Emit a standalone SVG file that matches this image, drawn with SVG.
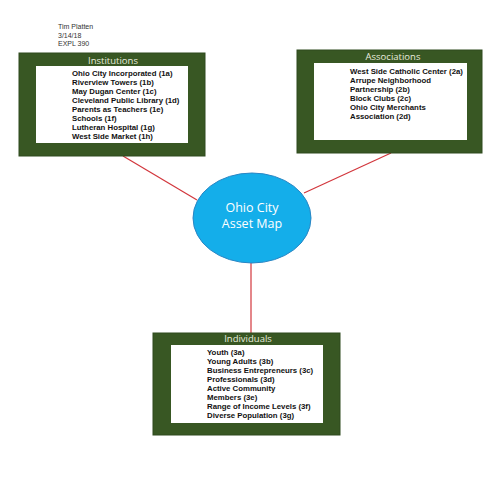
<svg xmlns="http://www.w3.org/2000/svg" width="495" height="495" viewBox="0 0 495 495">
<style>
.outer{fill:#385723;stroke:#2f4a1e;stroke-width:1}
.inner{fill:#ffffff}
.title{font-family:"Open Sans","Liberation Sans",sans-serif;font-size:9.5px;fill:#e8ecdf;text-anchor:middle}
.item{font-family:"Liberation Sans",Arial,sans-serif;font-size:7.8px;font-weight:bold;fill:#111}
.meta{font-family:"Liberation Sans",Arial,sans-serif;font-size:7px;fill:#333}
.conn{stroke:#d2363c;stroke-width:1.2;fill:none}
.hub{fill:#14aeea;stroke:#2a86c4;stroke-width:1}
.hubtext{font-family:"Open Sans","Liberation Sans",sans-serif;font-size:12.5px;fill:#ffffff;text-anchor:middle}
</style>
<rect width="495" height="495" fill="#ffffff"/>
<g id="author">
<text class="meta" x="58" y="29">Tim Platten</text>
<text class="meta" x="58" y="37.5">3/14/18</text>
<text class="meta" x="58" y="46">EXPL 390</text>
</g>
<g id="connectors">
<line class="conn" x1="123" y1="156" x2="197" y2="200"/>
<line class="conn" x1="391" y1="153" x2="304" y2="193"/>
<line class="conn" x1="251" y1="263" x2="251" y2="333"/>
</g>
<g id="institutions">
<rect class="outer" x="19" y="53" width="186" height="103"/>
<rect class="inner" x="36" y="66" width="152" height="77"/>
<text class="title" x="113" y="64">Institutions</text>
<text class="item" x="72" y="76">Ohio City Incorporated (1a)</text>
<text class="item" x="72" y="85">Riverview Towers (1b)</text>
<text class="item" x="72" y="94">May Dugan Center (1c)</text>
<text class="item" x="72" y="103">Cleveland Public Library (1d)</text>
<text class="item" x="72" y="112">Parents as Teachers (1e)</text>
<text class="item" x="72" y="121">Schools (1f)</text>
<text class="item" x="72" y="130">Lutheran Hospital (1g)</text>
<text class="item" x="72" y="139">West Side Market (1h)</text>
</g>
<g id="associations">
<rect class="outer" x="297" y="50" width="185" height="103"/>
<rect class="inner" x="314" y="63" width="153" height="77"/>
<text class="title" x="393" y="60">Associations</text>
<text class="item" x="350" y="74">West Side Catholic Center (2a)</text>
<text class="item" x="350" y="83">Arrupe Neighborhood</text>
<text class="item" x="350" y="92">Partnership (2b)</text>
<text class="item" x="350" y="101">Block Clubs (2c)</text>
<text class="item" x="350" y="110">Ohio City Merchants</text>
<text class="item" x="350" y="119">Association (2d)</text>
</g>
<g id="hub">
<ellipse class="hub" cx="252" cy="218" rx="59" ry="45"/>
<text class="hubtext" x="252" y="212">Ohio City</text>
<text class="hubtext" x="252" y="228">Asset Map</text>
</g>
<g id="individuals">
<rect class="outer" x="153" y="333" width="187" height="102"/>
<rect class="inner" x="171" y="345" width="152" height="78"/>
<text class="title" x="248" y="342">Individuals</text>
<text class="item" x="207" y="355">Youth (3a)</text>
<text class="item" x="207" y="364">Young Adults (3b)</text>
<text class="item" x="207" y="373">Business Entrepreneurs (3c)</text>
<text class="item" x="207" y="382">Professionals (3d)</text>
<text class="item" x="207" y="391">Active Community</text>
<text class="item" x="207" y="400">Members (3e)</text>
<text class="item" x="207" y="409">Range of Income Levels (3f)</text>
<text class="item" x="207" y="418">Diverse Population (3g)</text>
</g>
</svg>
